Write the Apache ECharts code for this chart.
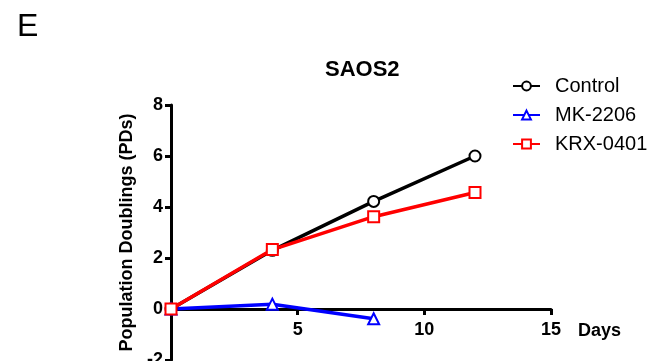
<!DOCTYPE html>
<html>
<head>
<meta charset="utf-8">
<script src="https://cdn.jsdelivr.net/npm/echarts@6/dist/echarts.min.js"></script>
<style>
  html, body { margin: 0; padding: 0; background: #fff; }
  #chart { width: 648px; height: 361px; }
</style>
</head>
<body>
<div id="chart"></div>
<script>
// 数据
const days = [0, 4, 8, 12];
const control = [0, 2.3, 4.22, 6.0];
const mk2206 = [0, 0.19, -0.38];
const krx0401 = [0, 2.33, 3.62, 4.57];
const seriesNames = ['Control', 'MK-2206', 'KRX-0401'];

const font = 'Liberation Sans, Arial, sans-serif';

function toPairs(values) {
  return values.map((v, i) => [days[i], v]);
}

function makeSeries(name, values, color, symbol) {
  return {
    type: 'line',
    name,
    data: toPairs(values),
    symbol,
    symbolSize: 11,
    lineStyle: { color, width: 3.5 },
    itemStyle: { color, borderColor: color, borderWidth: 2.5 },
    emphasis: { disabled: true },
    z: 3
  };
}

const chart = echarts.init(document.getElementById('chart'));

// x轴放在 y=0 处：网格高 255px 对应 10 个单位，0 距底边 51px
chart.setOption({
  animation: false,
  title: [
    { text: 'E', left: 12, top: 6, textStyle: { fontFamily: font, fontSize: 32, fontWeight: 'normal', color: '#000' } },
    { text: 'SAOS2', left: 320, top: 54, textStyle: { fontFamily: font, fontSize: 22, fontWeight: 'bold', color: '#000' } }
  ],
  legend: {
    orient: 'vertical',
    left: 512,
    top: 76,
    padding: 0,
    itemWidth: 27,
    itemHeight: 11,
    itemGap: 9,
    data: seriesNames,
    textStyle: { fontFamily: font, fontSize: 20, color: '#000', padding: [0, 0, 0, 10] }
  },
  grid: { left: 171, right: 97, top: 105, bottom: 1, containLabel: false, outerBoundsMode: 'none' },
  xAxis: {
    type: 'value',
    min: 0,
    max: 15,
    interval: 5,
    offset: -51,
    name: 'Days',
    nameLocation: 'end',
    nameGap: 27,
    nameTextStyle: { fontFamily: font, fontSize: 18, fontWeight: 'bold', color: '#000', verticalAlign: 'top', padding: [13, 0, 0, 0] },
    axisLine: { onZero: false, lineStyle: { color: '#000', width: 3 } },
    axisTick: { length: 6, lineStyle: { color: '#000', width: 3 } },
    axisLabel: { showMinLabel: false, margin: 12, fontFamily: font, fontSize: 18, fontWeight: 'bold', color: '#000' },
    splitLine: { show: false }
  },
  yAxis: {
    type: 'value',
    min: -2,
    max: 8,
    interval: 2,
    name: 'Population Doublings (PDs)',
    nameLocation: 'middle',
    nameGap: 35,
    nameTextStyle: { fontFamily: font, fontSize: 18, fontWeight: 'bold', color: '#000' },
    axisLine: { show: true, onZero: false, lineStyle: { color: '#000', width: 3 } },
    axisTick: { show: true, length: 6, lineStyle: { color: '#000', width: 3 } },
    axisLabel: { margin: 8, fontFamily: font, fontSize: 18, fontWeight: 'bold', color: '#000' },
    splitLine: { show: false }
  },
  series: [
    makeSeries('Control', control, '#000000', 'emptyCircle'),
    makeSeries('MK-2206', mk2206, '#0000ff', 'emptyTriangle'),
    makeSeries('KRX-0401', krx0401, '#ff0000', 'emptyRect')
  ]
});
</script>
</body>
</html>
